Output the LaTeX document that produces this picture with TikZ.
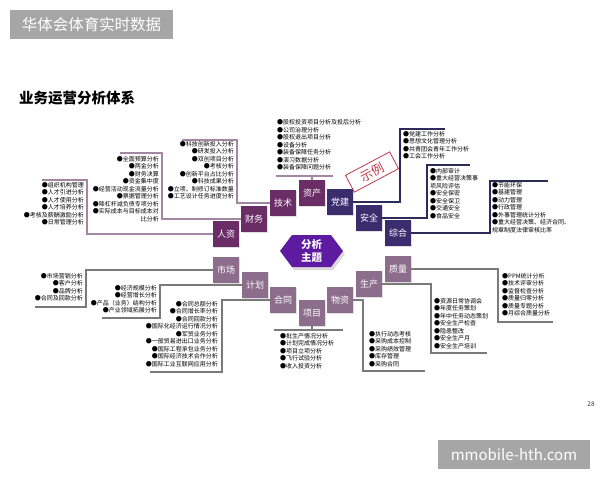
\documentclass[tikz,border=0pt]{standalone}
\usepackage{fontspec}
\setmainfont{Noto Sans CJK SC}
\usetikzlibrary{shapes.symbols,shadows}
\definecolor{hdrgray}{HTML}{A6A6A6}
\definecolor{plum}{HTML}{6B2D66}
\definecolor{navyb}{HTML}{3A2D6E}
\definecolor{mauve}{HTML}{8C6E8C}
\definecolor{hexv}{HTML}{5E1AA0}
\definecolor{lnplum}{HTML}{A287A2}
\definecolor{lnnavy}{HTML}{2E2A5A}
\definecolor{lngray}{HTML}{7A7A7A}
\definecolor{stampred}{HTML}{C0394B}
\begin{document}
\begin{tikzpicture}[x=1pt,y=-1pt,
  box/.style={rectangle, minimum size=26pt, inner sep=0pt, text=white,
    font=\fontsize{9}{9}\selectfont,
    drop shadow={opacity=0.25, shadow xshift=1pt, shadow yshift=-1pt}},
  topbox/.style={box, fill=plum},
  navybox/.style={box, fill=navyb},
  lowbox/.style={box, fill=mauve},
  listR/.style={anchor=north east, align=right, inner sep=0pt, font=\fontsize{6}{7.5}\selectfont},
  listL/.style={anchor=north west, align=left, inner sep=0pt, font=\fontsize{6}{7.5}\selectfont},
  ln/.style={line width=1.2pt}
]
\useasboundingbox (0,0) rectangle (600,480);

% header, title, footer
\node[fill=hdrgray, minimum width=163pt, minimum height=29pt, inner sep=0pt, text=white,
  font=\fontsize{15.5}{16}\selectfont] (hdr) at (91.5,24.5) {华体会体育实时数据};
\node[anchor=west, inner sep=0pt, font=\bfseries\fontsize{14.5}{15}\selectfont] (title) at (19,98) {业务运营分析体系};
\node[fill=hdrgray, minimum width=152pt, minimum height=29pt, inner sep=0pt, text=white,
  font=\fontsize{15}{15}\selectfont] (ftr) at (514,454.5) {mmobile-hth.com};
\node[inner sep=0pt, text=black!80, font=\fontsize{6.5}{6.5}\selectfont] (pg) at (591,404) {28};

% centre
\node[signal, signal to=east and west, signal pointer angle=106, fill=hexv,
  minimum width=63pt, minimum height=32pt, inner sep=0pt, text=white, align=center,
  font=\bfseries\fontsize{10.5}{13}\selectfont,
  drop shadow={opacity=0.3, shadow xshift=2pt, shadow yshift=-3pt}] (center) at (311.5,251) {分析\\主题};

% boxes
\node[topbox] (renzi) at (226,234) {人资};
\node[topbox] (caiwu) at (254,219) {财务};
\node[topbox] (jishu) at (283,203) {技术};
\node[topbox] (zichan) at (312,193) {资产};
\node[navybox] (dangjian) at (340,202) {党建};
\node[navybox] (anquan) at (369,218) {安全};
\node[navybox] (zonghe) at (398,233) {综合};
\node[lowbox] (shichang) at (226,270) {市场};
\node[lowbox] (jihua) at (255,285) {计划};
\node[lowbox] (hetong) at (283,300) {合同};
\node[lowbox] (xiangmu) at (312,313) {项目};
\node[lowbox] (wuzi) at (340,300) {物资};
\node[lowbox] (shengchan) at (369,284) {生产};
\node[lowbox] (zhiliang) at (398,269) {质量};

% connector corner coordinates
\coordinate (rzA) at (87,180);  \coordinate (rzB) at (42,180);
\coordinate (cwA) at (162,153); \coordinate (cwB) at (120,153);
\coordinate (jsA) at (237,140); \coordinate (jsB) at (182,140);
\coordinate (zcL) at (276,176); \coordinate (zcR) at (333,176);
\coordinate (djA) at (400,129); \coordinate (djB) at (445,129);
\coordinate (aqA) at (427,165); \coordinate (aqB) at (470,165);
\coordinate (zhA) at (490,181); \coordinate (zhB) at (548,181);
\coordinate (scA) at (86,307);  \coordinate (scB) at (35,307);
\coordinate (jhA) at (160,318); \coordinate (jhB) at (102,318);
\coordinate (htA) at (222,372); \coordinate (htB) at (150,372);
\coordinate (xmL) at (274,330); \coordinate (xmR) at (343,330);
\coordinate (wzA) at (363,371); \coordinate (wzB) at (425,371);
\coordinate (shA) at (431,353); \coordinate (shB) at (487,353);
\coordinate (zlA) at (498,322); \coordinate (zlB) at (553,322);

% connectors
\draw[ln, lnplum] (renzi.west) -| (rzA) -- (rzB);
\draw[ln, lnplum] (caiwu.west) -| (cwA) -- (cwB);
\draw[ln, lnplum] (jishu.west) -| (jsA) -- (jsB);
\draw[ln, lnplum] (zichan.north) -- (zichan.north |- zcL);
\draw[ln, lnplum] (zcL) -- (zcR);
\draw[ln, lnnavy] (dangjian.east) -| (djA) -- (djB);
\draw[ln, lnnavy] (anquan.east) -| (aqA) -- (aqB);
\draw[ln, lnnavy] (zonghe.east) -| (zhA) -- (zhB);
\draw[ln, lngray] (shichang.west) -| (scA) -- (scB);
\draw[ln, lngray] (jihua.west) -| (jhA) -- (jhB);
\draw[ln, lngray] (hetong.west) -| (htA) -- (htB);
\draw[ln, lngray] (xiangmu.south) -- (xiangmu.south |- xmL);
\draw[ln, lngray] (xmL) -- (xmR);
\draw[ln, lngray] (wuzi.east) -| (wzA) -- (wzB);
\draw[ln, lngray] (shengchan.east) -| (shA) -- (shB);
\draw[ln, lngray] (zhiliang.east) -| (zlA) -- (zlB);

% lists
\node[listR] (lrz) at (84,182) {●组织机构管理\\●人才引进分析\\●人才使用分析\\●人才培养分析\\●考核及薪酬激励分析\\●日常管理分析};
\node[listR] (lcw) at (159,156) {●全面预算分析\\●两金分析\\●财务决算\\●资金集中度\\●经营活动现金流量分析\\●票据管理分析\\●降杠杆减负债专项分析\\●实际成本与目标成本对\\比分析};
\node[listR] (ljs) at (234,141) {●科技创新投入分析\\●研发投入分析\\●双创项目分析\\●考核分析\\●创新平台占比分析\\●科技成果分析\\●立项、制修订标准数量\\●工艺设计任务进度分析};
\node[listL] (lzc) at (277,119.5) {●股权投资项目分析及投后分析\\●公司治理分析\\●股权退出项目分析\\●设备分析\\●装备保障任务分析\\●演习数据分析\\●装备保障问题分析};
\node[listL] (ldj) at (403,131) {●党建工作分析\\●思想文化管理分析\\●共青团会青年工作分析\\●工会工作分析};
\node[listL] (laq) at (430,168) {●内部审计\\●重大经营决策事\\项风险评估\\●安全保密\\●安全保卫\\●交通安全\\●食品安全};
\node[listL] (lzh) at (492,182) {●节能环保\\●基建管理\\●动力管理\\●行政管理\\●外事管理统计分析\\●重大经营决策、经济合同、\\规章制度法律审核比率};
\node[listR] (lsc) at (83,273) {●市场营销分析\\●客户分析\\●品牌分析\\●合同及回款分析};
\node[listR] (ljh) at (157,285) {●经济规模分析\\●经营增长分析\\●产品（业务）结构分析\\●产业领域拓展分析};
\node[listR] (lht) at (218,301) {●合同总额分析\\●合同增长率分析\\●合同回款分析\\●国际化经济运行情况分析\\●军贸业务分析\\●一般贸易进出口业务分析\\●国际工程承包业务分析\\●国际经济技术合作分析\\●国际工业互联网应用分析};
\node[listL] (lxm) at (280,333) {●批生产情况分析\\●计划完成情况分析\\●项目立项分析\\●飞行试验分析\\●收入投资分析};
\node[listL] (lwz) at (369,331) {●执行动态考核\\●采购成本控制\\●采购绩效管理\\●库存管理\\●采购合同};
\node[listL] (lsh) at (434,298) {●资源日常协调会\\●年度任务策划\\●年中任务动态策划\\●安全生产检查\\●隐患整改\\●安全生产月\\●安全生产培训};
\node[listL] (lzl) at (502,273) {●PPM统计分析\\●技术评审分析\\●监督检查分析\\●质量归零分析\\●质量专题分析\\●月综合质量分析};

% stamp
\node[draw=stampred, line width=0.8pt, fill=white, minimum width=50pt, minimum height=19pt,
  inner sep=0pt, rotate=28, text=stampred, font=\fontsize{12.5}{13}\selectfont] (stamp) at (372,172) {示例};
\end{tikzpicture}
\end{document}
